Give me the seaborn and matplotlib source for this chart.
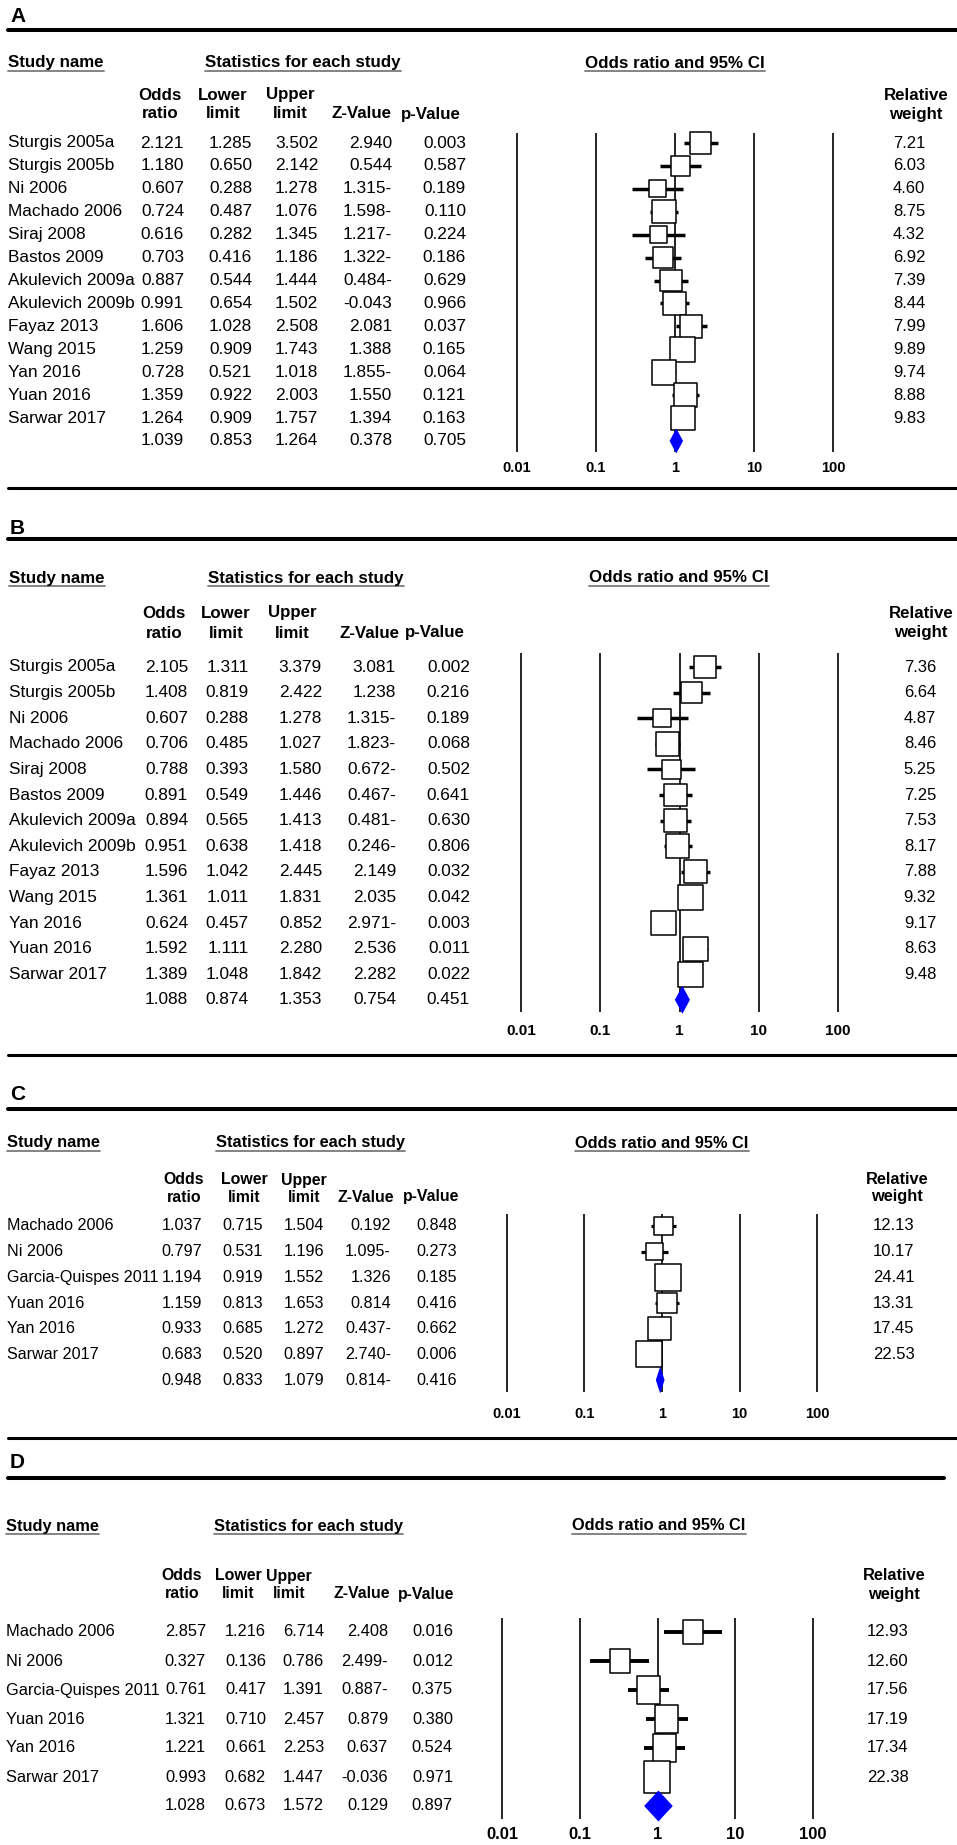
import numpy as np
import pandas as pd
import matplotlib
matplotlib.use("Agg")
import matplotlib.pyplot as plt
import seaborn as sns
from matplotlib.transforms import Affine2D, blended_transform_factory
from matplotlib.lines import Line2D
from matplotlib.path import Path
from matplotlib.ticker import NullLocator
import logging
logging.getLogger("matplotlib.font_manager").setLevel(logging.ERROR)

sns.set_theme(style="white")
REG = ["Liberation Sans", "DejaVu Sans"]
plt.rcParams["font.family"] = REG
plt.rcParams["text.color"] = "black"
plt.rcParams["xtick.color"] = "black"

# ---------------- data ----------------
names_AB = ["Sturgis 2005a", "Sturgis 2005b", "Ni 2006", "Machado 2006", "Siraj 2008",
            "Bastos 2009", "Akulevich 2009a", "Akulevich 2009b", "Fayaz 2013",
            "Wang 2015", "Yan 2016", "Yuan 2016", "Sarwar 2017"]

or_A = [2.121, 1.180, 0.607, 0.724, 0.616, 0.703, 0.887, 0.991, 1.606, 1.259, 0.728, 1.359, 1.264]
lo_A = [1.285, 0.650, 0.288, 0.487, 0.282, 0.416, 0.544, 0.654, 1.028, 0.909, 0.521, 0.922, 0.909]
hi_A = [3.502, 2.142, 1.278, 1.076, 1.345, 1.186, 1.444, 1.502, 2.508, 1.743, 1.018, 2.003, 1.757]
z_A = ["2.940", "0.544", "1.315-", "1.598-", "1.217-", "1.322-", "0.484-", "-0.043", "2.081",
       "1.388", "1.855-", "1.550", "1.394"]
p_A = ["0.003", "0.587", "0.189", "0.110", "0.224", "0.186", "0.629", "0.966", "0.037",
       "0.165", "0.064", "0.121", "0.163"]
w_A = [7.21, 6.03, 4.60, 8.75, 4.32, 6.92, 7.39, 8.44, 7.99, 9.89, 9.74, 8.88, 9.83]
sum_A = [1.039, 0.853, 1.264, "0.378", "0.705"]

or_B = [2.105, 1.408, 0.607, 0.706, 0.788, 0.891, 0.894, 0.951, 1.596, 1.361, 0.624, 1.592, 1.389]
lo_B = [1.311, 0.819, 0.288, 0.485, 0.393, 0.549, 0.565, 0.638, 1.042, 1.011, 0.457, 1.111, 1.048]
hi_B = [3.379, 2.422, 1.278, 1.027, 1.580, 1.446, 1.413, 1.418, 2.445, 1.831, 0.852, 2.280, 1.842]
z_B = ["3.081", "1.238", "1.315-", "1.823-", "0.672-", "0.467-", "0.481-", "0.246-", "2.149",
       "2.035", "2.971-", "2.536", "2.282"]
p_B = ["0.002", "0.216", "0.189", "0.068", "0.502", "0.641", "0.630", "0.806", "0.032",
       "0.042", "0.003", "0.011", "0.022"]
w_B = [7.36, 6.64, 4.87, 8.46, 5.25, 7.25, 7.53, 8.17, 7.88, 9.32, 9.17, 8.63, 9.48]
sum_B = [1.088, 0.874, 1.353, "0.754", "0.451"]

names_CD = ["Machado 2006", "Ni 2006", "Garcia-Quispes 2011", "Yuan 2016", "Yan 2016", "Sarwar 2017"]

or_C = [1.037, 0.797, 1.194, 1.159, 0.933, 0.683]
lo_C = [0.715, 0.531, 0.919, 0.813, 0.685, 0.520]
hi_C = [1.504, 1.196, 1.552, 1.653, 1.272, 0.897]
z_C = ["0.192", "1.095-", "1.326", "0.814", "0.437-", "2.740-"]
p_C = ["0.848", "0.273", "0.185", "0.416", "0.662", "0.006"]
w_C = [12.13, 10.17, 24.41, 13.31, 17.45, 22.53]
sum_C = [0.948, 0.833, 1.079, "0.814-", "0.416"]

or_D = [2.857, 0.327, 0.761, 1.321, 1.221, 0.993]
lo_D = [1.216, 0.136, 0.417, 0.710, 0.661, 0.682]
hi_D = [6.714, 0.786, 1.391, 2.457, 2.253, 1.447]
z_D = ["2.408", "2.499-", "0.887-", "0.879", "0.637", "-0.036"]
p_D = ["0.016", "0.012", "0.375", "0.380", "0.524", "0.971"]
w_D = [12.93, 12.60, 17.56, 17.19, 17.34, 22.38]
sum_D = [1.028, 0.673, 1.572, "0.129", "0.897"]

tick_vals = [0.01, 0.1, 1, 10, 100]
tick_labels = ["0.01", "0.1", "1", "10", "100"]
col_heads = [("Odds", "ratio"), ("Lower", "limit"), ("Upper", "limit"), ("", "Z-Value"), ("", "p-Value")]

# ---------------- layout ----------------
W, H = 957, 1845
fig = plt.figure(figsize=(W / 100, H / 100), dpi=100)
fig.patch.set_facecolor("white")
PX = Affine2D().scale(1 / W, -1 / H).translate(0, 1) + fig.transFigure
XPX = Affine2D().scale(1 / W, 1) + fig.transFigure

panels = [
    dict(letter="A", names=names_AB, orr=or_A, lo=lo_A, hi=hi_A, z=z_A, p=p_A, w=w_A, summ=sum_A,
         letter_y=17, top_line=30, top_x1=957, head_y=63, c1=95, c2=114,
         y0=143, step=22.92, T=133, Bt=452, lab_y=469, bottom_line=488,
         x1=675, dec=79.0, k=7.9, aspect=1.0, dh=12.5, ci_lw=2.5,
         name_x=8, val_r=[184, 252, 318, 392, 466], head_c=[160, 223, 290, 361, 431],
         w_c=909, rel_c=916, stat_c=303, ci_c=675,
         fs=12.4, hfs=12.2, cfs=12.2, wfs=12, tfs=10.5),
    dict(letter="B", names=names_AB, orr=or_B, lo=lo_B, hi=hi_B, z=z_B, p=p_B, w=w_B, summ=sum_B,
         letter_y=528, top_line=539, top_x1=957, head_y=578, c1=613, c2=633,
         y0=667, step=25.6, T=653, Bt=1012, lab_y=1032, bottom_line=1055,
         x1=679.5, dec=79.3, k=8.2, aspect=1.0, dh=14, ci_lw=2.5,
         name_x=9, val_r=[188, 249, 322, 396, 470], head_c=[164, 226, 292, 369, 435],
         w_c=920, rel_c=921, stat_c=306, ci_c=679,
         fs=12.4, hfs=12.2, cfs=12.2, wfs=12, tfs=11),
    dict(letter="C", names=names_CD, orr=or_C, lo=lo_C, hi=hi_C, z=z_C, p=p_C, w=w_C, summ=sum_C,
         letter_y=1095, top_line=1109, top_x1=957, head_y=1143, c1=1180, c2=1197,
         y0=1226, step=25.67, T=1214, Bt=1392, lab_y=1415, bottom_line=1438,
         x1=662, dec=77.7, k=5.45, aspect=1.0, dh=13.5, ci_lw=2.3,
         name_x=7, val_r=[202, 263, 324, 391, 457], head_c=[184, 244, 304, 366, 431],
         w_c=894, rel_c=897, stat_c=310, ci_c=662,
         fs=11.6, hfs=11.8, cfs=11.4, wfs=12, tfs=10.5),
    dict(letter="D", names=names_CD, orr=or_D, lo=lo_D, hi=hi_D, z=z_D, p=p_D, w=w_D, summ=sum_D,
         letter_y=1462, top_line=1478, top_x1=944, head_y=1526, c1=1576, c2=1594,
         y0=1632, step=29.0, T=1618, Bt=1819, lab_y=1836, bottom_line=None,
         x1=657.5, dec=77.7, k=6.6, aspect=0.833, dh=15.5, ci_lw=2.8,
         name_x=6, val_r=[206, 266, 324, 388, 453], head_c=[182, 238, 289, 362, 426],
         w_c=888, rel_c=894, stat_c=308, ci_c=659,
         fs=11.8, hfs=11.8, cfs=11.4, wfs=12, tfs=12),
]

underlined = []


def draw_panel(P):
    n = len(P["names"])
    df = pd.DataFrame({"name": P["names"], "or": P["orr"], "lo": P["lo"], "hi": P["hi"],
                       "z": P["z"], "p": P["p"], "w": P["w"]})
    df["row"] = np.arange(n)

    x1, dec = P["x1"], P["dec"]
    L, R = x1 - 2.7 * dec, x1 + 2.7 * dec
    ax = fig.add_axes([L / W, 1 - P["Bt"] / H, (R - L) / W, (P["Bt"] - P["T"]) / H])
    ax.set_xscale("log")
    ax.set_xlim(10 ** ((L - x1) / dec), 10 ** ((R - x1) / dec))
    ax.set_ylim((P["Bt"] - P["y0"]) / P["step"], (P["T"] - P["y0"]) / P["step"])
    ax.patch.set_alpha(0)
    for s in ax.spines.values():
        s.set_visible(False)
    ax.grid(False)

    for t in tick_vals:
        ax.axvline(t, color="black", lw=1.2, zorder=1)

    ax.hlines(df["row"], df["lo"], df["hi"], color="black", lw=P["ci_lw"], zorder=2)

    a = P["aspect"]
    marker = Path([(-0.5 * a, -0.5), (0.5 * a, -0.5), (0.5 * a, 0.5), (-0.5 * a, 0.5), (-0.5 * a, -0.5)],
                  [Path.MOVETO, Path.LINETO, Path.LINETO, Path.LINETO, Path.CLOSEPOLY])
    sizes = (P["k"] * np.sqrt(df["w"].to_numpy()) * 0.72) ** 2
    sns.scatterplot(data=df, x="or", y="row", marker=marker, s=sizes, color="white",
                    edgecolor="black", linewidth=1.1, zorder=3, ax=ax, legend=False, clip_on=False)

    s_or, s_lo, s_hi = P["summ"][0], P["summ"][1], P["summ"][2]
    h = P["dh"] / P["step"]
    ax.fill([s_lo, s_or, s_hi, s_or], [n, n - h, n, n + h], color="#0000FF", lw=0, zorder=4, clip_on=False)

    ax.set_xticks(tick_vals)
    ax.xaxis.set_minor_locator(NullLocator())
    ax.set_xticklabels(tick_labels, fontweight="bold", fontsize=P["tfs"])
    pad = (P["lab_y"] - P["Bt"] - P["tfs"] * 100 / 72 * 0.55) * 0.72
    ax.tick_params(axis="x", length=0, pad=pad, colors="black")
    ax.set_yticks([])
    ax.set_xlabel("")
    ax.set_ylabel("")

    blend = blended_transform_factory(XPX, ax.transData)
    tk = dict(transform=blend, va="center", fontsize=P["fs"], color="black")
    for _, r in df.iterrows():
        ax.text(P["name_x"], r["row"], r["name"], ha="left", **tk)
        vals = [f"{r['or']:.3f}", f"{r['lo']:.3f}", f"{r['hi']:.3f}", r["z"], r["p"]]
        for xv, v in zip(P["val_r"], vals):
            ax.text(xv, r["row"], v, ha="right", **tk)
        ax.text(P["w_c"], r["row"], f"{r['w']:.2f}", ha="center", transform=blend, va="center",
                fontsize=P["wfs"], color="black")
    svals = [f"{P['summ'][0]:.3f}", f"{P['summ'][1]:.3f}", f"{P['summ'][2]:.3f}", P["summ"][3], P["summ"][4]]
    for xv, v in zip(P["val_r"], svals):
        ax.text(xv, n, v, ha="right", **tk)

    # headers
    hk = dict(transform=PX, fontweight="bold", fontsize=P["hfs"], va="center", color="black")
    ck = dict(transform=PX, fontweight="bold", fontsize=P["cfs"], va="center", color="black")
    fig.text(10, P["letter_y"], P["letter"], transform=PX, fontweight="bold", fontsize=15,
             va="center", ha="left", color="black")
    t1 = fig.text(P["name_x"], P["head_y"], "Study name", ha="left", **hk)
    t2 = fig.text(P["stat_c"], P["head_y"], "Statistics for each study", ha="center", **hk)
    t3 = fig.text(P["ci_c"], P["head_y"], "Odds ratio and 95% CI", ha="center", **hk)
    underlined.extend([t1, t2, t3])
    for xc, (l1, l2) in zip(P["head_c"], col_heads):
        if l1:
            fig.text(xc, P["c1"], l1, ha="center", **ck)
        fig.text(xc, P["c2"], l2, ha="center", **ck)
    fig.text(P["rel_c"], P["c1"], "Relative", ha="center", **hk)
    fig.text(P["rel_c"], P["c2"], "weight", ha="center", **hk)

    fig.add_artist(Line2D([8, P["top_x1"]], [P["top_line"]] * 2, transform=PX, color="black", lw=2.9))
    if P["bottom_line"] is not None:
        fig.add_artist(Line2D([8, 957], [P["bottom_line"]] * 2, transform=PX, color="black", lw=2.2))


for P in panels:
    draw_panel(P)

fig.canvas.draw()
renderer = fig.canvas.get_renderer()
inv = fig.transFigure.inverted()
for t in underlined:
    bb = t.get_window_extent(renderer)
    (fx0, fy0), (fx1, _) = inv.transform([(bb.x0, bb.y0 - 0.5), (bb.x1, bb.y0)])
    fig.add_artist(Line2D([fx0, fx1], [fy0, fy0], transform=fig.transFigure, color="#7a7a7a", lw=1.3))

fig.savefig("out.png", dpi=100, facecolor="white")
